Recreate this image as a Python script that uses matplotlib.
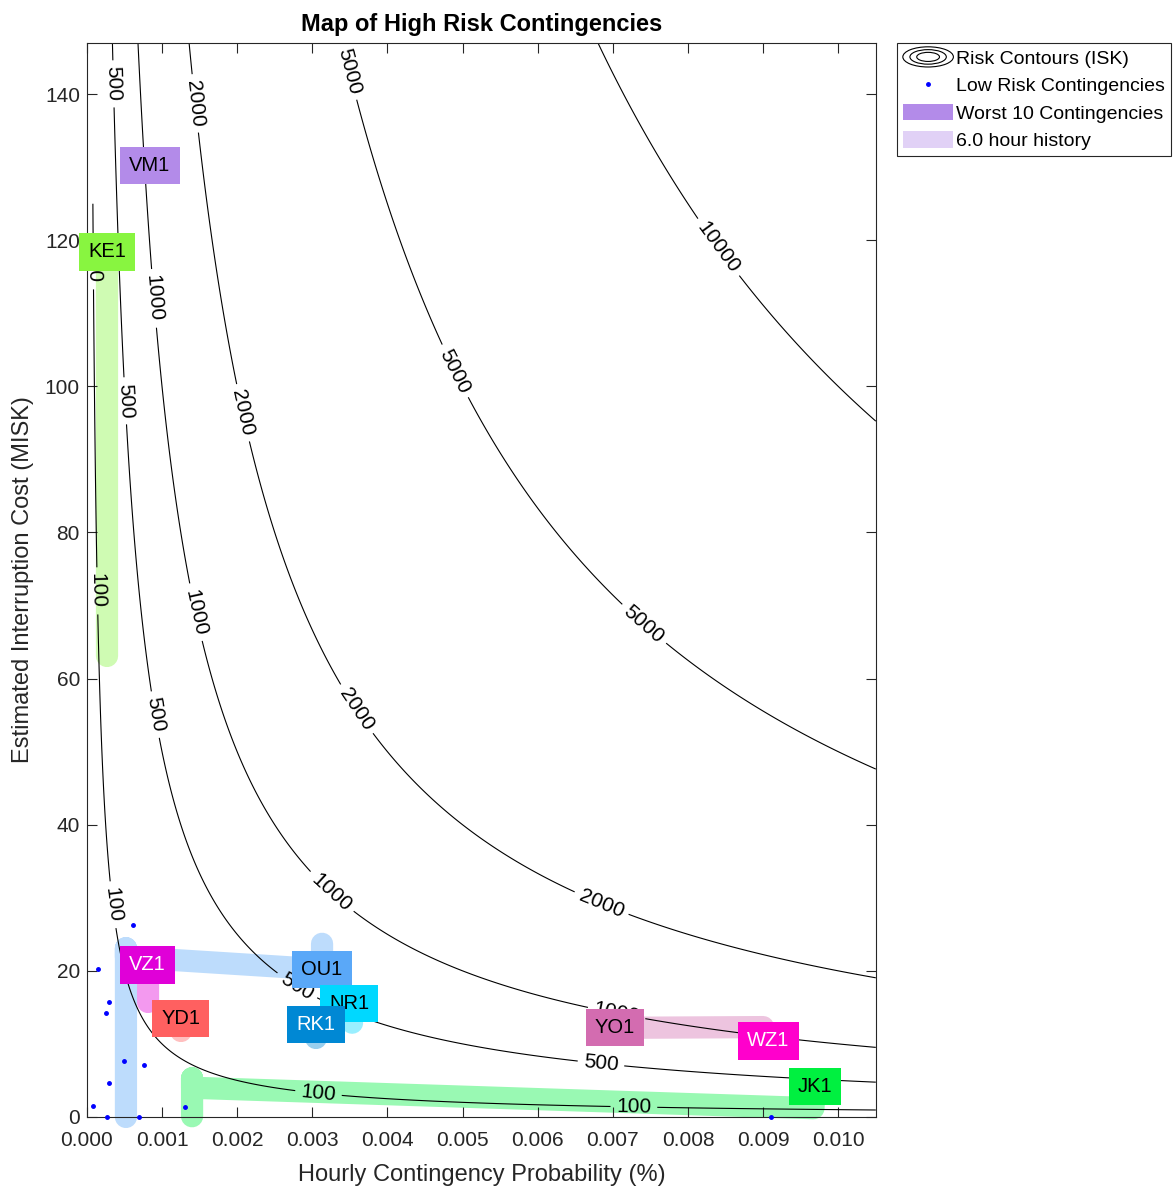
import numpy as np
import matplotlib.pyplot as plt
from matplotlib.colors import to_rgb
from matplotlib.lines import Line2D
from matplotlib.patches import Patch, Ellipse
from matplotlib.legend_handler import HandlerBase
from matplotlib.ticker import MultipleLocator, FormatStrFormatter

plt.rcParams['font.family'] = ['Liberation Sans', 'DejaVu Sans']

# risk contour levels (ISK)
risk_levels = [100, 500, 1000, 2000, 5000, 10000]

# low risk contingencies: hourly probability (%) and cost (MISK)
low_prob = [0.00062, 0.00015, 0.00030, 0.00026, 0.00050, 0.00076,
            0.00030, 0.00008, 0.00027, 0.00069, 0.00131, 0.00910]
low_cost = [26.3, 20.2, 15.7, 14.2, 7.7, 7.1, 4.7, 1.5, 0.0, 0.0, 1.3, 0.0]

# worst 10 contingencies, current state
top_names = ['VM1', 'KE1', 'VZ1', 'YD1', 'OU1', 'NR1', 'RK1', 'YO1', 'WZ1', 'JK1']
top_prob = [0.00084, 0.00027, 0.00081, 0.00125, 0.00313, 0.00349,
            0.00305, 0.00703, 0.00907, 0.00969]
top_cost = [130.2, 118.4, 20.8, 13.5, 20.2, 15.5, 12.6, 12.2, 10.4, 4.2]
top_colors = ['#b38be9', '#88f540', '#e000d8', '#ff6060', '#5aa8f8',
              '#00d8ff', '#0088d4', '#d36cb0', '#ff00cc', '#00f040']
top_text = ['black', 'black', 'white', 'black', 'black',
            'black', 'white', 'black', 'white', 'black']

# 6 hour history of each contingency
hist_prob = {
    'KE1': [0.00027, 0.00027],
    'VZ1': [0.00081, 0.00081],
    'YD1': [0.00125, 0.00125],
    'OU1': [0.00052, 0.00052, 0.00052, 0.00313, 0.00313],
    'NR1': [0.00349, 0.00353],
    'RK1': [0.00305, 0.00305],
    'YO1': [0.00703, 0.00900],
    'JK1': [0.00140, 0.00140, 0.00140, 0.00967, 0.00969],
}
hist_cost = {
    'KE1': [118.4, 63.1],
    'VZ1': [20.8, 15.8],
    'YD1': [13.5, 11.8],
    'OU1': [0.0, 23.1, 21.9, 20.2, 23.7],
    'NR1': [15.5, 12.9],
    'RK1': [12.6, 10.8],
    'YO1': [12.2, 12.3],
    'JK1': [0.1, 5.3, 4.0, 1.2, 4.2],
}

# where the contour values get written
label_spots = [(0.00033, 141.4), (0.00141, 138.7), (0.00344, 143.0), (0.0084, 119.0),
               (0.00084, 112.0), (0.00047, 98.0), (0.00204, 96.3), (0.00488, 102.0),
               (0.00010, 72.0), (0.00141, 69.0), (0.00087, 55.0), (0.0074, 67.3),
               (0.00357, 55.7), (0.00324, 30.6), (0.00684, 29.0), (0.00031, 29.0),
               (0.0028, 18.0), (0.00705, 14.2), (0.00684, 7.1), (0.00308, 3.0),
               (0.00728, 1.2), (0.000086, 116.5)]


def lighten(c, a=0.4):
    r = np.array(to_rgb(c))
    return tuple(1 - a * (1 - r))


class HandlerRings(HandlerBase):
    def create_artists(self, legend, orig_handle, xdescent, ydescent,
                       width, height, fontsize, trans):
        cx = width / 2 - xdescent
        cy = height / 2 - ydescent
        rings = []
        for k in (1.0, 0.72, 0.45):
            rings.append(Ellipse((cx, cy), width * k, height * 1.25 * k,
                                 fill=False, edgecolor='black', lw=0.8,
                                 transform=trans))
        return rings


fig = plt.figure(figsize=(11.74, 11.88), dpi=100)
ax = fig.add_axes([0.074, 0.0598, 0.672, 0.904])

# risk grid starts at the smallest probability in the data set
p = np.linspace(0.00008, 0.0105, 1500)
c = np.linspace(0, 147, 1500)
P, C = np.meshgrid(p, c)
R = (P / 100) * (C * 1e6)

cs = ax.contour(P, C, R, levels=risk_levels, colors='black', linewidths=0.8)
labels = ax.clabel(cs, manual=label_spots, fmt='%d', fontsize=15, inline=True, inline_spacing=6)
for t in labels:
    t.set_clip_on(True)

for name, col in zip(top_names, top_colors):
    if name in hist_prob:
        ax.plot(hist_prob[name], hist_cost[name], color=lighten(col), lw=16,
                solid_capstyle='round', solid_joinstyle='round', clip_on=False, zorder=1)

ax.plot(low_prob, low_cost, '.', color='#0000ff', ms=5, clip_on=False, zorder=3)

for name, x, y, col, tc in zip(top_names, top_prob, top_cost, top_colors, top_text):
    ax.text(x, y, name, ha='center', va='center', fontsize=14.5, color=tc, zorder=5,
            bbox=dict(boxstyle='square,pad=0.45', fc=col, ec='none'))

ax.set_xlim(0, 0.0105)
ax.set_ylim(0, 147)
ax.xaxis.set_major_locator(MultipleLocator(0.001))
ax.xaxis.set_major_formatter(FormatStrFormatter('%.3f'))
ax.yaxis.set_major_locator(MultipleLocator(20))
ax.tick_params(direction='in', length=7, top=True, right=True, labelsize=15,
               colors='#262626', width=0.8)
ax.tick_params(axis='x', pad=10)
ax.tick_params(axis='y', pad=5)
for s in ax.spines.values():
    s.set_color('#262626')
    s.set_linewidth(0.8)

ax.set_xlabel('Hourly Contingency Probability (%)', fontsize=17, color='#262626', labelpad=10)
ax.set_ylabel('Estimated Interruption Cost (MISK)', fontsize=17, color='#262626', labelpad=8)
ax.set_title('Map of High Risk Contingencies', fontsize=17, fontweight='bold', pad=9)

handles = [Patch(fc='none', ec='none'),
           Line2D([], [], ls='none', marker='.', color='#0000ff', ms=5),
           Patch(fc=top_colors[0], ec='none'),
           Patch(fc=lighten(top_colors[0]), ec='none')]
names = ['Risk Contours (ISK)', 'Low Risk Contingencies',
         'Worst 10 Contingencies', '6.0 hour history']
leg = fig.legend(handles, names, loc='upper left',
                 bbox_to_anchor=(897 / 1174, 1 - 43 / 1188), borderaxespad=0,
                 fontsize=14, fancybox=False, framealpha=1, edgecolor='#262626',
                 handlelength=2.6, handleheight=0.9, handletextpad=0.15,
                 labelspacing=0.45, borderpad=0.3,
                 handler_map={handles[0]: HandlerRings()})
leg.get_frame().set_linewidth(0.8)

fig.savefig('out.png', dpi=100)
